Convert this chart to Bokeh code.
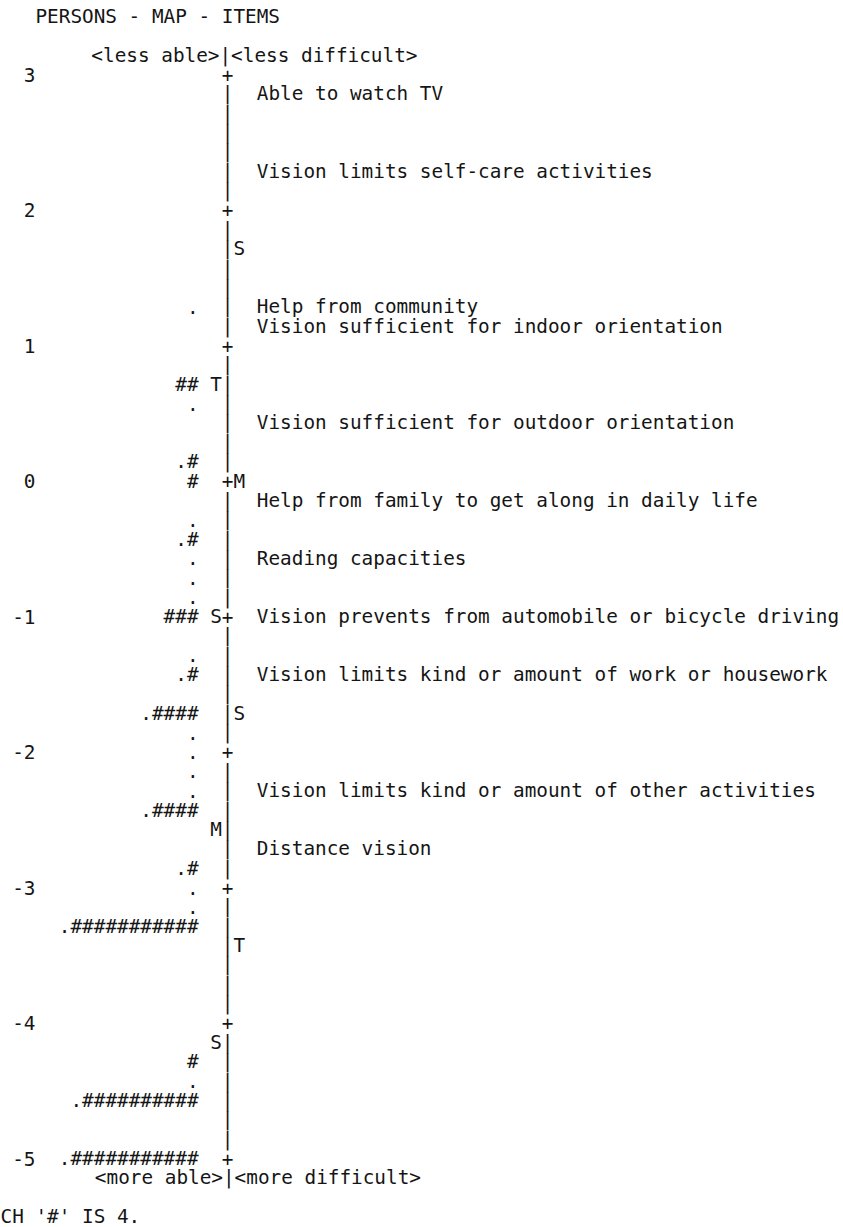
from bokeh.plotting import figure
from bokeh.models import Range1d
from bokeh.embed import file_html
from bokeh.resources import INLINE
from bokeh.core.properties import value

# ---------------- data ----------------
title_text = "PERSONS - MAP - ITEMS"
top_label = "<less able>|<less difficult>"
bottom_label = "<more able>|<more difficult>"
note_text = "CH '#' IS 4."

logit_ticks = [3, 2, 1, 0, -1, -2, -3, -4, -5]
tick_labels = ["3", "2", "1", "0", "-1", "-2", "-3", "-4", "-5"]

item_names = [
    "Able to watch TV",
    "Vision limits self-care activities",
    "Help from community",
    "Vision sufficient for indoor orientation",
    "Vision sufficient for outdoor orientation",
    "Help from family to get along in daily life",
    "Reading capacities",
    "Vision prevents from automobile or bicycle driving",
    "Vision limits kind or amount of work or housework",
    "Vision limits kind or amount of other activities",
    "Distance vision",
]
item_measures = [2.857, 2.286, 1.286, 1.143, 0.429, -0.143, -0.571, -1.000,
                 -1.429, -2.286, -2.714]

person_measures = [1.286, 0.714, 0.571, 0.143, 0.000, -0.286, -0.429, -0.571,
                   -0.714, -0.857, -1.000, -1.286, -1.429, -1.714, -1.857,
                   -2.000, -2.143, -2.286, -2.429, -2.857, -3.000, -3.143,
                   -3.286, -4.286, -4.429, -4.571, -5.000]
person_bars = [".", "##", ".", ".#", "#", ".", ".#", ".",
               ".", ".", "###", ".", ".#", ".####", ".",
               ".", ".", ".", ".####", ".#", ".", ".",
               ".###########", "#", ".", ".##########", ".###########"]

person_stat_labels = ["T", "S", "M", "S"]
person_stat_measures = [0.714, -1.000, -2.571, -4.143]
item_stat_labels = ["S", "M", "S", "T"]
item_stat_measures = [1.714, 0.000, -1.714, -3.429]

# ---------------- layout (character grid) ----------------
ROWS_PER_LOGIT = 7
TOP = logit_ticks[0]
N_ROWS = (logit_ticks[0] - logit_ticks[-1]) * ROWS_PER_LOGIT + 1

def row_y(k):
    return TOP - k / ROWS_PER_LOGIT

COL_W = 11.65       # px per character
PX_PER_LOGIT = 135.5
W, H = 843, 1227
x0 = 0.0
y_top = TOP + 74 / PX_PER_LOGIT
FONT = value("DejaVu Sans Mono")
FS = value("19.35px")
COLOR = "#151515"

p = figure(width=W, height=H, output_backend="svg", toolbar_location=None,
           x_range=Range1d(x0, x0 + W / COL_W),
           y_range=Range1d(y_top - H / PX_PER_LOGIT, y_top),
           min_border=0)
p.axis.visible = False
p.xgrid.visible = False
p.ygrid.visible = False
p.outline_line_color = None
p.background_fill_color = "white"
p.border_fill_color = "white"

def txt(x, y, t, align):
    p.text(x=x, y=y, text=t, text_font=FONT, text_font_size=FS,
           text_color=COLOR, text_align=align, text_baseline="middle")

# title, header, footer, note
txt([3], [row_y(-3)], [title_text], "left")
txt([7.8], [row_y(-1)], [top_label], "left")
txt([8.1], [row_y(N_ROWS)], [bottom_label], "left")
txt([x0], [row_y(N_ROWS + 2)], [note_text], "left")

# vertical axis made of characters
axis_y = [row_y(k) for k in range(N_ROWS)]
axis_ch = ["+" if k % ROWS_PER_LOGIT == 0 else "|" for k in range(N_ROWS)]
txt([19.5] * N_ROWS, axis_y, axis_ch, "center")

# logit tick labels
txt([3] * len(logit_ticks), logit_ticks, tick_labels, "right")

# persons
txt([17] * len(person_bars), person_measures, person_bars, "right")
txt([18.5] * len(person_stat_labels), person_stat_measures, person_stat_labels, "center")

# items
txt([20.5] * len(item_stat_labels), item_stat_measures, item_stat_labels, "center")
txt([22] * len(item_names), item_measures, item_names, "left")

open("out.html", "w").write(file_html(p, INLINE))
